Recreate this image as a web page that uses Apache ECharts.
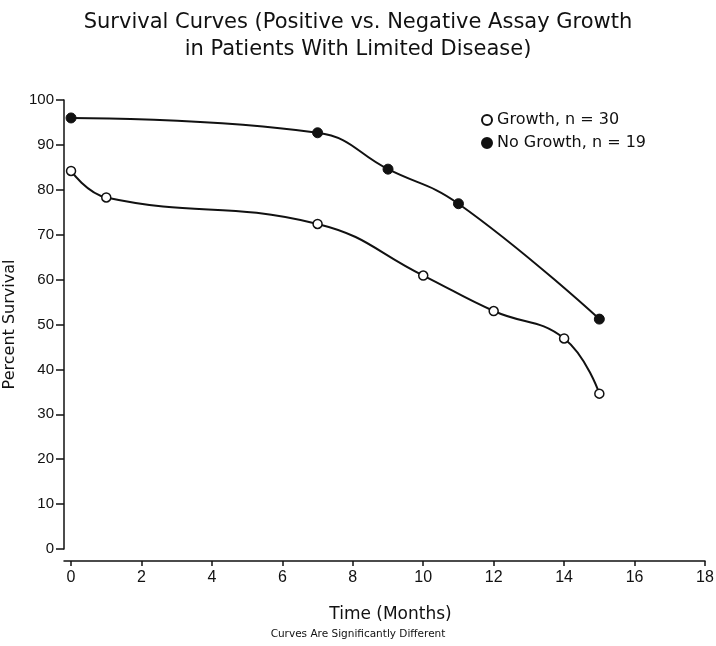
<!DOCTYPE html>
<html>
<head>
<meta charset="utf-8">
<script src="https://cdn.jsdelivr.net/npm/echarts@6/dist/echarts.min.js"></script>
<style>html,body{margin:0;padding:0;background:#fff}#c{width:716px;height:646px}</style>
</head>
<body>
<div id="c"></div>
<script>
var titleLines = ['Survival Curves (Positive vs. Negative Assay Growth', 'in Patients With Limited Disease)'];
var footnote = 'Curves Are Significantly Different';
var xTicks = [0, 2, 4, 6, 8, 10, 12, 14, 16, 18];
var growthName = 'Growth, n = 30';
var growthMonths = [0, 1, 7, 10, 12, 14, 15];
var growthValues = [84.2, 78.3, 72.4, 60.9, 53.0, 46.9, 34.6];
var noGrowthName = 'No Growth, n = 19';
var noGrowthMonths = [0, 7, 9, 11, 15];
var noGrowthValues = [96.0, 92.7, 84.6, 76.9, 51.2];

function pairs(xs, ys) { return xs.map(function (x, i) { return [x, ys[i]]; }); }

var FONT = 'Liberation Sans';
var WIDE = 'DejaVu Sans';
var chart = echarts.init(document.getElementById('c'), null, { renderer: 'canvas' });
chart.setOption({
  backgroundColor: '#fff',
  animation: false,
  title: [
    { text: titleLines.join('\n'), left: 'center', top: 4,
      textStyle: { fontFamily: WIDE, fontSize: 21, fontWeight: 'normal', color: '#111', lineHeight: 27 } },
    { text: footnote, left: 'center', top: 624,
      textStyle: { fontFamily: WIDE, fontSize: 10.5, fontWeight: 'normal', color: '#111' } }
  ],
  legend: {
    orient: 'vertical', left: 476, top: 107, itemWidth: 10, itemHeight: 10, itemGap: 7,
    icon: 'circle',
    textStyle: { fontFamily: WIDE, fontSize: 16, color: '#111' },
    data: [growthName, noGrowthName]
  },
  grid: { left: 64, right: 11, top: 100, bottom: 97, containLabel: false, outerBoundsMode: 'none' },
  xAxis: {
    type: 'value', min: -0.2, max: 18, offset: 12,
    name: 'Time (Months)', nameLocation: 'middle', nameGap: 45,
    nameTextStyle: { fontFamily: WIDE, fontSize: 17, color: '#111', padding: [0, 0, 0, 12] },
    axisLine: { show: true, onZero: false, lineStyle: { color: '#111', width: 1.5 } },
    axisTick: { show: true, length: 5, customValues: xTicks, lineStyle: { color: '#111', width: 1.5 } },
    axisLabel: { customValues: xTicks, fontFamily: FONT, fontSize: 16, color: '#111', margin: 9 },
    splitLine: { show: false }
  },
  yAxis: {
    type: 'value', min: 0, max: 100, interval: 10,
    name: 'Percent Survival', nameLocation: 'middle', nameGap: 38,
    nameTextStyle: { fontFamily: WIDE, fontSize: 16, color: '#111' },
    axisLine: { show: true, onZero: false, lineStyle: { color: '#111', width: 1.5 } },
    axisTick: { show: true, length: 8, lineStyle: { color: '#111', width: 1.5 } },
    axisLabel: { fontFamily: FONT, fontSize: 15, color: '#111', margin: 10 },
    splitLine: { show: false }
  },
  series: [
    { name: growthName, type: 'line', smooth: 0.45, data: pairs(growthMonths, growthValues),
      symbol: 'circle', symbolSize: 9, showAllSymbol: true,
      lineStyle: { color: '#111', width: 2 },
      itemStyle: { color: '#fff', borderColor: '#111', borderWidth: 1.5 } },
    { name: noGrowthName, type: 'line', smooth: 0.45, data: pairs(noGrowthMonths, noGrowthValues),
      symbol: 'circle', symbolSize: 10, showAllSymbol: true,
      lineStyle: { color: '#111', width: 2 },
      itemStyle: { color: '#111', borderColor: '#111', borderWidth: 1 } }
  ]
});
</script>
</body>
</html>
